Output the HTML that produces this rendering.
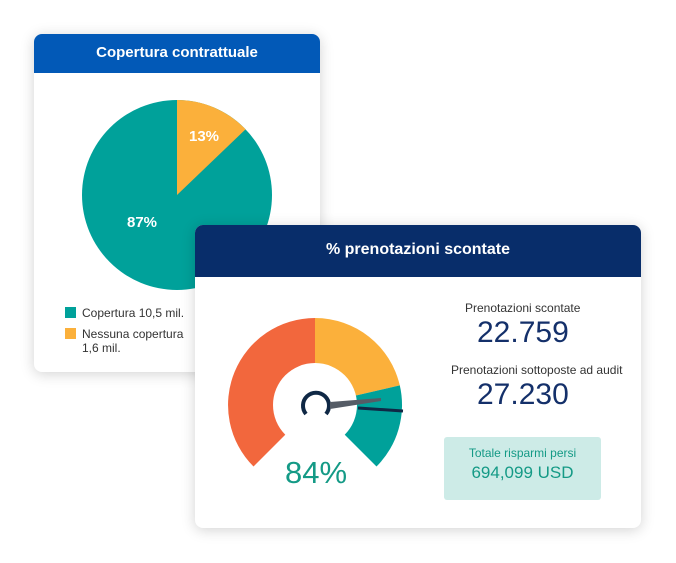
<!DOCTYPE html>
<html><head><meta charset="utf-8"><style>
body{margin:0;width:676px;height:563px;background:#fff;position:relative;overflow:hidden;font-family:"Liberation Sans",sans-serif}
.card{position:absolute;background:#fff;border-radius:8px;box-shadow:0 2px 14px rgba(0,0,0,.18);overflow:hidden}
.hd{color:#fff;font-weight:bold;text-align:center}
.t{position:absolute;white-space:nowrap}
</style></head><body>
<div class="card" style="left:34px;top:34px;width:286px;height:338px">
 <div class="hd" style="background:#0259b7;height:39px;line-height:37px;font-size:15px">Copertura contrattuale</div>
</div>
<svg style="position:absolute;left:0;top:0" width="676" height="563">
 <circle cx="177" cy="195" r="95" fill="#00a19a"/>
 <path d="M177 195 L177 100 A95 95 0 0 1 245.6 129.3 Z" fill="#fbb03b"/>
 <text x="204" y="141" fill="#fff" font-size="15" font-weight="bold" text-anchor="middle" font-family="Liberation Sans">13%</text>
 <text x="142" y="227" fill="#fff" font-size="15" font-weight="bold" text-anchor="middle" font-family="Liberation Sans">87%</text>
 <rect x="65" y="307" width="11" height="11" fill="#00a19a"/>
 <rect x="65" y="328" width="11" height="11" fill="#fbb03b"/>
 <text x="82" y="317" font-size="12" fill="#333" font-family="Liberation Sans">Copertura 10,5 mil.</text>
 <text x="82" y="338" font-size="12" fill="#333" font-family="Liberation Sans">Nessuna copertura</text>
 <text x="82" y="352" font-size="12" fill="#333" font-family="Liberation Sans">1,6 mil.</text>
</svg>
<div class="card" style="left:195px;top:225px;width:446px;height:303px">
 <div class="hd" style="background:#082d6a;height:52px;line-height:50px;font-size:16px">% prenotazioni scontate</div>
 <div class="t" style="left:270px;top:76px;font-size:12px;color:#333">Prenotazioni scontate</div>
 <div class="t" style="left:282px;top:91px;font-size:30px;color:#14306a">22.759</div>
 <div class="t" style="left:256px;top:138px;font-size:12px;color:#333">Prenotazioni sottoposte ad audit</div>
 <div class="t" style="left:282px;top:153px;font-size:30px;color:#14306a">27.230</div>
 <div style="position:absolute;left:249px;top:212px;width:157px;height:63px;background:#cdebe7;border-radius:3px"></div>
 <div class="t" style="left:249px;width:157px;text-align:center;top:221px;font-size:12px;color:#149a86">Totale risparmi persi</div>
 <div class="t" style="left:249px;width:157px;text-align:center;top:238px;font-size:17px;color:#149a86">694,099 USD</div>
 <div class="t" style="left:90px;top:230px;font-size:31px;color:#149a86">84%</div>
</div>
<svg style="position:absolute;left:0;top:0" width="676" height="563">
 <path d="M315 405 L253.5 466.5 A87 87 0 0 1 315 318 Z" fill="#f2673d"/>
 <path d="M315 405 L315 318 A87 87 0 0 1 399.8 385.4 Z" fill="#fbb03b"/>
 <path d="M315 405 L399.8 385.4 A87 87 0 0 1 376.5 466.5 Z" fill="#00a19a"/>
 <circle cx="315" cy="405" r="42" fill="#fff"/>
 <path d="M306 414 A13 13 0 1 1 326 414" fill="none" stroke="#0f2845" stroke-width="4"/>
 <polygon points="330,402 381,398 381,401 330,409" fill="#555c66"/>
 <line x1="358" y1="408" x2="403" y2="411" stroke="#0f2845" stroke-width="3"/>
</svg>
</body></html>
